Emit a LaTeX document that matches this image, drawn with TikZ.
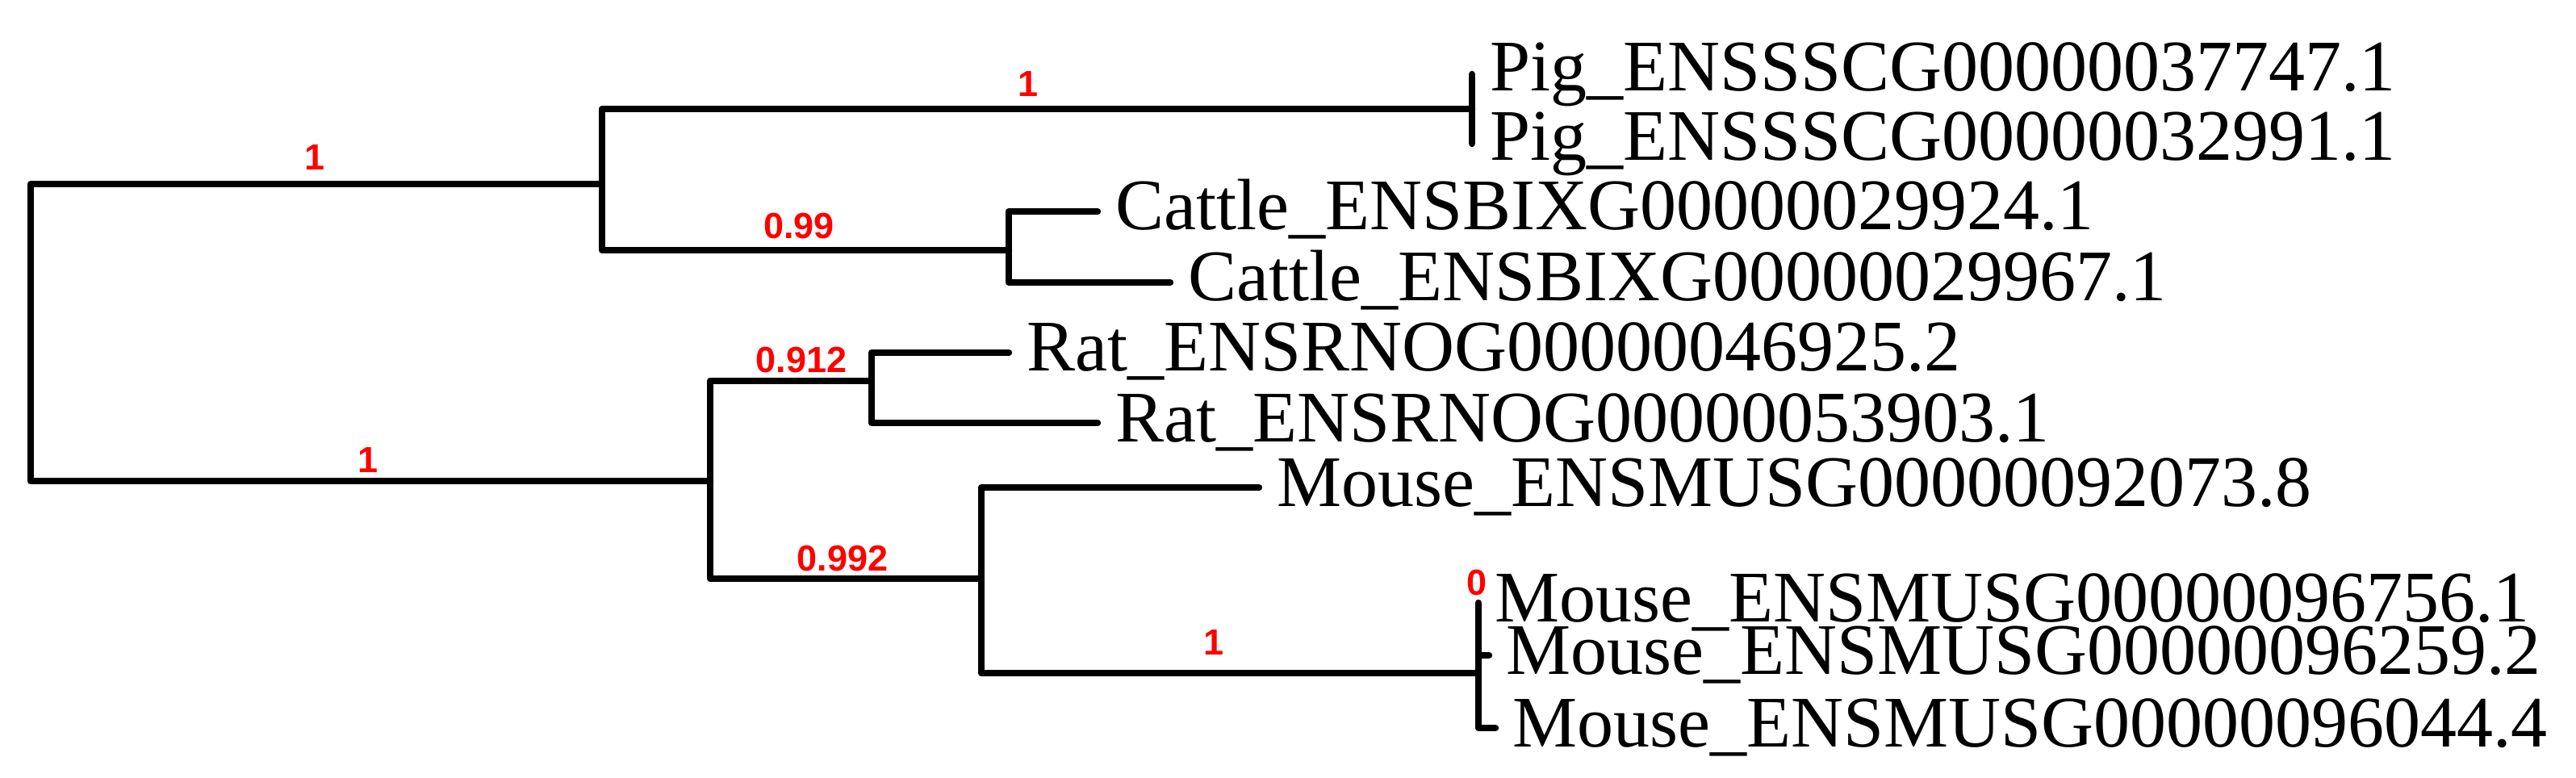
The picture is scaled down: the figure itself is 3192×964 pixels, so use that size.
\documentclass[tikz,border=0pt]{standalone}
\usepackage{fontspec}
\setmainfont{Liberation Serif}
\newfontfamily\lblfont{Liberation Sans}
\begin{document}
\begin{tikzpicture}[x=0.025cm,y=-0.025cm,
  br/.style={line width=6pt,line cap=round,line join=round},
  leaf/.style={anchor=base west,inner sep=0pt,font=\fontsize{64}{72}\selectfont},
  sup/.style={text=red,inner sep=0pt,font=\lblfont\bfseries\fontsize{32}{36}\selectfont}]
\useasboundingbox (0,0) rectangle (3192,964);
% internal node coordinates
\coordinate (r0) at (38,228); \coordinate (r1) at (38,596);
\coordinate (A) at (746,228); \coordinate (Au) at (746,135); \coordinate (Ad) at (746,310);
\coordinate (P) at (1824,135); \coordinate (P1) at (1824,92); \coordinate (P2) at (1824,178);
\coordinate (C) at (1250,310); \coordinate (C1) at (1250,262); \coordinate (C2) at (1250,350);
\coordinate (C1e) at (1360,262); \coordinate (C2e) at (1450,350);
\coordinate (B) at (880,596); \coordinate (Bu) at (880,472); \coordinate (Bd) at (880,717);
\coordinate (R) at (1080,472); \coordinate (R1) at (1080,437); \coordinate (R2) at (1080,524);
\coordinate (R1e) at (1250,437); \coordinate (R2e) at (1360,524);
\coordinate (M) at (1216,717); \coordinate (M1) at (1216,604); \coordinate (M2) at (1216,834);
\coordinate (M1e) at (1560,604);
\coordinate (T) at (1832,834); \coordinate (T1) at (1832,747); \coordinate (T3) at (1832,902);
\coordinate (T2) at (1832,812); \coordinate (T2e) at (1845,812); \coordinate (T3e) at (1853,902);
% branches
\draw[br] (A) -- (r0) -- (r1) -- (B);
\draw[br] (P) -- (Au) -- (Ad) -- (C);
\draw[br] (P1) -- (P2);
\draw[br] (C1e) -- (C1) -- (C2) -- (C2e);
\draw[br] (R) -- (Bu) -- (Bd) -- (M);
\draw[br] (R1e) -- (R1) -- (R2) -- (R2e);
\draw[br] (M1e) -- (M1) -- (M2) -- (T);
\draw[br] (T1) -- (T3) -- (T3e);
\draw[br] (T2) -- (T2e);
% leaves
\node[leaf] (l1) at (1846,113) {Pig\_ENSSSCG00000037747.1};
\node[leaf] (l2) at (1846,199) {Pig\_ENSSSCG00000032991.1};
\node[leaf] (l3) at (1382,285) {Cattle\_ENSBIXG00000029924.1};
\node[leaf] (l4) at (1472,373) {Cattle\_ENSBIXG00000029967.1};
\node[leaf] (l5) at (1272,460) {Rat\_ENSRNOG00000046925.2};
\node[leaf] (l6) at (1382,547) {Rat\_ENSRNOG00000053903.1};
\node[leaf] (l7) at (1582,627) {Mouse\_ENSMUSG00000092073.8};
\node[leaf] (l8) at (1852,770) {Mouse\_ENSMUSG00000096756.1};
\node[leaf] (l9) at (1866,835) {Mouse\_ENSMUSG00000096259.2};
\node[leaf] (l10) at (1874,925) {Mouse\_ENSMUSG00000096044.4};
% support values
\node[sup] (s1) at (390,195) {1};
\node[sup] (s2) at (1274,104) {1};
\node[sup] (s3) at (990,280) {0.99};
\node[sup] (s4) at (993,446) {0.912};
\node[sup] (s5) at (456,570) {1};
\node[sup] (s6) at (1044,692) {0.992};
\node[sup] (s7) at (1504,796) {1};
\node[sup] (s8) at (1830,722) {0};
\end{tikzpicture}
\end{document}
